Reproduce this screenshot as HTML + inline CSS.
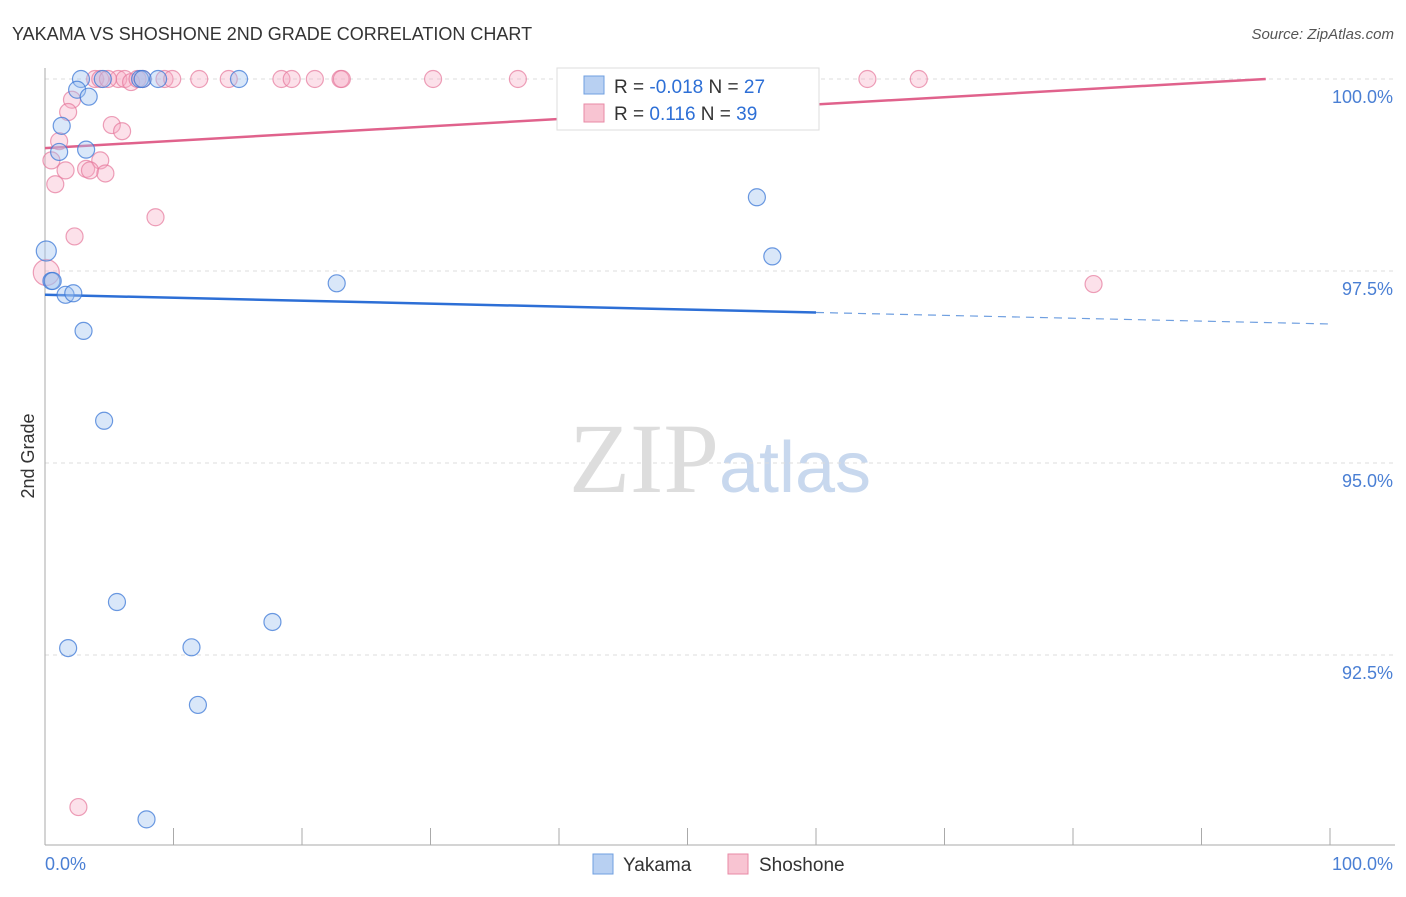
<!DOCTYPE html>
<html><head><meta charset="utf-8"><style>
body{margin:0;background:#fff;font-family:"Liberation Sans",sans-serif}
#wrap{position:relative;width:1406px;height:892px}
</style></head><body>
<div id="wrap">
<svg id="chart" width="1406" height="892">
<text x="12" y="40" font-size="18" fill="#333">YAKAMA VS SHOSHONE 2ND GRADE CORRELATION CHART</text>
<text x="1394" y="39" font-size="15" fill="#555" text-anchor="end" font-style="italic">Source: ZipAtlas.com</text>
<text x="34" y="456" font-size="18" fill="#333" text-anchor="middle" transform="rotate(-90 34 456)">2nd Grade</text>
<text x="720" y="492" font-size="100" fill="#ddd" text-anchor="middle" font-family="Liberation Serif,serif">ZIP<tspan fill="#c8d8ee" font-family="Liberation Sans,sans-serif" font-size="72">atlas</tspan></text>
<g id="grid"></g><g id="trend"></g><g id="pts"></g>
<g>
<rect x="557" y="68" width="262" height="62" fill="#fff" stroke="#ddd"/>
<rect x="584" y="76" width="20" height="18" fill="#b8d0f2" stroke="#6f9fe0"/>
<text x="614" y="93" font-size="19" fill="#333">R = <tspan fill="#2d6fd6">-0.018</tspan>   N = <tspan fill="#2d6fd6">27</tspan></text>
<rect x="584" y="104" width="20" height="18" fill="#f8c4d2" stroke="#e88aa6"/>
<text x="614" y="120" font-size="19" fill="#333">R =   <tspan fill="#2d6fd6">0.116</tspan>   N = <tspan fill="#2d6fd6">39</tspan></text>
</g>
<g>
<rect x="593" y="854" width="20" height="20" fill="#b8d0f2" stroke="#6f9fe0"/>
<text x="623" y="871" font-size="19" fill="#333">Yakama</text>
<rect x="728" y="854" width="20" height="20" fill="#f8c4d2" stroke="#e88aa6"/>
<text x="759" y="871" font-size="19" fill="#333">Shoshone</text>
</g>
</svg></div>
<script>
const yTicks=[100,97.5,95,92.5];
const yTickLabels=["100.0%","97.5%","95.0%","92.5%"];
const xTickLabels=["0.0%","100.0%"];
const yakamaX=[2.8,4.5,7.4,7.6,8.8,15.1,2.5,3.4,1.3,1.1,3.2,55.4,56.6,0.1,0.5,0.6,1.6,2.2,22.7,3.0,4.6,5.6,17.7,1.8,11.4,11.9,7.9];
const yakamaY=[100,100,100,100,100,100,99.86,99.77,99.39,99.05,99.08,98.46,97.69,97.76,97.37,97.37,97.19,97.21,97.34,96.72,95.55,93.19,92.93,92.59,92.60,91.85,90.36];
const shoshoneX=[3.9,4.3,5.7,6.2,6.7,7.2,7.6,9.3,9.9,12.0,14.3,18.4,19.2,21.0,23.0,23.1,30.2,36.8,42.3,64.0,68.0,2.1,1.8,5.2,6.0,1.1,0.5,1.6,4.3,3.2,3.5,4.7,0.8,8.6,2.3,0.1,81.6,2.6,4.9];
const shoshoneY=[100,100,100,100,99.96,100,100,100,100,100,100,100,100,100,100,100,100,100,100,100,100,99.73,99.57,99.40,99.32,99.19,98.94,98.81,98.94,98.83,98.81,98.77,98.63,98.20,97.95,97.48,97.33,90.52,100];
const yakamaTrend=[97.19,96.96,96.81]; // at x=0,60,100
const shoshoneTrend=[99.10,100]; // at x=0,95
const X=v=>45+v*12.85, Y=v=>79+(100-v)*76.8;
const NS="http://www.w3.org/2000/svg";
function mk(p,t,a){const e=document.createElementNS(NS,t);for(const k in a)e.setAttribute(k,a[k]);p.appendChild(e);return e;}
const g=document.getElementById('grid'),tr=document.getElementById('trend'),pts=document.getElementById('pts');
yTicks.forEach((t,i)=>{
 const l=mk(g,'line',{x1:45,x2:1395,y1:Y(t),y2:Y(t),stroke:'#ddd','stroke-dasharray':'4,4'});
 
 
 const tx=mk(g,'text',{x:1393,y:Y(t)+24,'font-size':18,fill:'#4a7fd4','text-anchor':'end'});tx.textContent=yTickLabels[i];
 
 
});
mk(g,'line',{x1:45,x2:45,y1:68,y2:845,stroke:'#aaa'});
mk(g,'line',{x1:45,x2:1395,y1:845,y2:845,stroke:'#aaa'});
for(let i=0;i<=10;i++){mk(g,'line',{x1:X(i*10),x2:X(i*10),y1:828,y2:845,stroke:'#aaa'});}
xTickLabels.forEach((s,i)=>{const t=mk(g,'text',{x:i?1393:45,y:870,'font-size':18,fill:'#4a7fd4','text-anchor':i?'end':'start'});t.textContent=s;
 
 });
let l1=mk(tr,'line',{x1:X(0),y1:Y(yakamaTrend[0]),x2:X(60),y2:Y(yakamaTrend[1]),stroke:'#2d6fd6','stroke-width':2.5});


let l2=mk(tr,'line',{x1:X(60),y1:Y(yakamaTrend[1]),x2:X(100),y2:Y(yakamaTrend[2]),stroke:'#6f9fe0','stroke-width':1.2,'stroke-dasharray':'8,6'});


let l3=mk(tr,'line',{x1:X(0),y1:Y(shoshoneTrend[0]),x2:X(95),y2:Y(shoshoneTrend[1]),stroke:'#e0628c','stroke-width':2.5});


shoshoneX.forEach((x,i)=>{const c=mk(pts,'circle',{cx:X(x),cy:Y(shoshoneY[i]),r:i==35?13:8.5,fill:'rgba(246,170,194,0.35)',stroke:'rgba(230,120,155,0.7)','stroke-width':1.2});
 
 });
yakamaX.forEach((x,i)=>{const c=mk(pts,'circle',{cx:X(x),cy:Y(yakamaY[i]),r:i==13?10:8.5,fill:'rgba(160,195,240,0.4)',stroke:'rgba(60,120,215,0.75)','stroke-width':1.2});
 
 });
</script>
</body></html>
